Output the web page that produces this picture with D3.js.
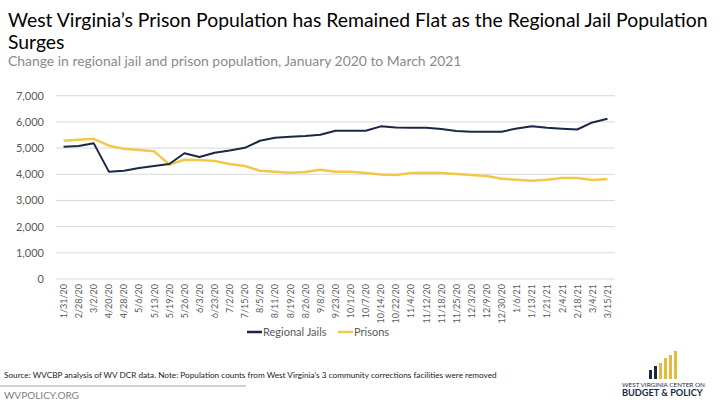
<!DOCTYPE html>
<html>
<head>
<meta charset="utf-8">
<script src="https://cdn.jsdelivr.net/npm/d3@7"></script>
<style>
  html, body { margin: 0; padding: 0; background: #fff; }
  svg { display: block; }
  text { font-family: Lato, "Open Sans", sans-serif; }
</style>
</head>
<body>
<svg id="chart" width="720" height="405"></svg>
<script>
const dates = ["1/31/20","2/28/20","3/2/20","4/20/20","4/28/20","5/6/20","5/13/20","5/19/20","5/26/20","6/3/20","6/23/20","7/2/20","7/15/20","8/5/20","8/11/20","8/19/20","8/26/20","9/8/20","9/23/20","10/1/20","10/7/20","10/14/20","10/22/20","11/4/20","11/12/20","11/18/20","11/25/20","12/3/20","12/9/20","12/30/20","1/6/21","1/13/21","1/21/21","2/4/21","2/18/21","3/4/21","3/15/21"];
const regionalJails = [5050,5080,5180,4100,4135,4240,4315,4390,4800,4660,4820,4910,5010,5280,5395,5435,5460,5510,5660,5660,5660,5830,5790,5775,5775,5725,5650,5625,5625,5625,5750,5830,5775,5740,5710,5980,6120];
const prisons = [5280,5320,5355,5090,4975,4925,4875,4375,4555,4540,4505,4390,4315,4135,4100,4060,4085,4175,4100,4100,4046,3995,3970,4046,4058,4046,4008,3970,3930,3830,3790,3755,3790,3855,3855,3780,3815];
const yTicks = [0,1000,2000,3000,4000,5000,6000,7000];
const seriesNames = ["Regional Jails","Prisons"];
const titleLines = ["West Virginia’s Prison Population has Remained Flat as the Regional Jail Population", "Surges"];

const svg = d3.select("#chart");
const navy = "#1a2748", gold = "#f2c84b", gray = "#595959", grid = "#d9d9d9";

function fit(sel, target) {
  const w = sel.node().getComputedTextLength();
  const fs = parseFloat(sel.attr("font-size"));
  sel.attr("font-size", fs * target / w);
}

// Title (two lines, spaced so their font boxes do not collide)
const titleFont = "'Liberation Sans', Arial, sans-serif";
const t1 = svg.append("text").attr("x", 8).attr("y", 26.5).attr("font-size", 20)
  .attr("font-family", titleFont).attr("fill", "#000").text(titleLines[0]);
fit(t1, 700);
const tfs = parseFloat(t1.attr("font-size"));
svg.append("text").attr("x", 8).attr("y", 26.5 + tfs * 1.117 + 0.4).attr("font-size", tfs)
  .attr("font-family", titleFont).attr("fill", "#000").text(titleLines[1]);

fit(svg.append("text").attr("x", 8).attr("y", 66).attr("font-size", 14).attr("fill", "#8a8a8a")
  .text("Change in regional jail and prison population, January 2020 to March 2021"), 454);

// Scales
const x = d3.scalePoint().domain(dates).range([56, 615]).padding(0.5);
const y = d3.scaleLinear().domain([0, 7000]).range([279, 95.7]);

// Gridlines
svg.append("g").selectAll("line").data(yTicks).join("line")
  .attr("x1", 56).attr("x2", 615)
  .attr("y1", d => y(d)).attr("y2", d => y(d))
  .attr("stroke", grid).attr("stroke-width", 1);

// Y axis
const yAxis = svg.append("g").attr("transform", "translate(44,0)")
  .call(d3.axisLeft(y).tickValues(yTicks).tickFormat(d3.format(",")).tickSize(0).tickPadding(0));
yAxis.select(".domain").remove();
yAxis.selectAll("text").attr("font-size", 11).attr("fill", gray).attr("font-family", "Lato, sans-serif");

// X axis
const xAxis = svg.append("g").attr("transform", "translate(0,279)")
  .call(d3.axisBottom(x).tickSize(0).tickPadding(0));
xAxis.select(".domain").remove();
xAxis.selectAll("text")
  .attr("font-size", 9).attr("fill", gray).attr("font-family", "Lato, sans-serif")
  .attr("transform", "rotate(-90)")
  .attr("text-anchor", "end")
  .attr("x", -5).attr("y", 0).attr("dy", "0.32em");

// Lines
const line = d3.line().x((d, i) => x(dates[i])).y(d => y(d));
svg.append("path").datum(prisons).attr("d", line)
  .attr("fill", "none").attr("stroke", gold).attr("stroke-width", 2.5).attr("stroke-linejoin", "round");
svg.append("path").datum(regionalJails).attr("d", line)
  .attr("fill", "none").attr("stroke", navy).attr("stroke-width", 2).attr("stroke-linejoin", "round");

// Legend
const legend = [{name: seriesNames[0], color: navy, x: 247}, {name: seriesNames[1], color: gold, x: 338}];
const lg = svg.append("g").selectAll("g").data(legend).join("g")
  .attr("transform", d => `translate(${d.x},332)`);
lg.append("line").attr("x1", 0).attr("x2", 15).attr("stroke", d => d.color).attr("stroke-width", 2.5);
lg.append("text").attr("x", 16).attr("dy", "0.35em").attr("font-size", 11).attr("fill", gray).text(d => d.name);

// Footer
fit(svg.append("text").attr("x", 4).attr("y", 378).attr("font-size", 9).attr("fill", "#222")
  .text("Source: WVCBP analysis of WV DCR data. Note: Population counts from West Virginia’s 3 community corrections facilities were removed"), 493);
svg.append("line").attr("x1", 0).attr("x2", 246).attr("y1", 386).attr("y2", 386).attr("stroke", "#8c8c8c").attr("stroke-width", 0.8);
fit(svg.append("text").attr("x", 4).attr("y", 399).attr("font-size", 11).attr("fill", "#7f7f7f")
  .text("WVPOLICY.ORG"), 75);

// Logo
const logoBars = [{h: 9, c: navy}, {h: 13, c: navy}, {h: 16, c: "#e8b93a"}, {h: 21, c: "#e8b93a"}, {h: 24, c: "#e8b93a"}, {h: 28, c: "#e8b93a"}];
svg.append("g").selectAll("rect").data(logoBars).join("rect")
  .attr("x", (d, i) => 649 + i * 5).attr("y", d => 379 - d.h)
  .attr("width", 3).attr("height", d => d.h).attr("fill", d => d.c);
fit(svg.append("text").attr("x", 622).attr("y", 386.5).attr("font-size", 6).attr("fill", navy)
  .attr("font-family", "'Liberation Sans', sans-serif").text("WEST VIRGINIA CENTER ON"), 83);
fit(svg.append("text").attr("x", 622).attr("y", 396).attr("font-size", 10).attr("font-weight", "bold").attr("fill", navy)
  .attr("font-family", "'Liberation Sans', sans-serif").text("BUDGET & POLICY"), 81);
</script>
</body>
</html>
